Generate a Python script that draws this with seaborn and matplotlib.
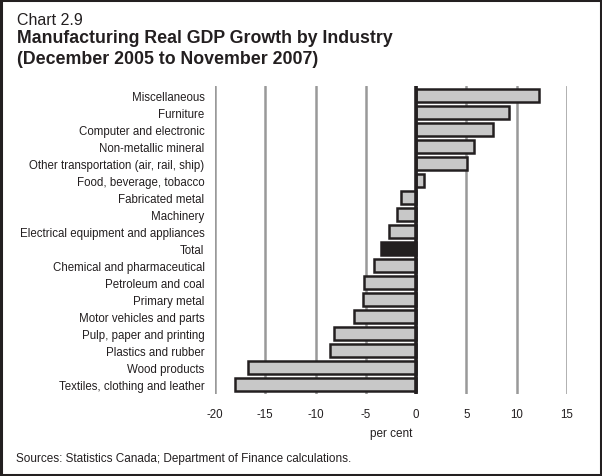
import matplotlib
matplotlib.use('Agg')
import matplotlib.pyplot as plt
import seaborn as sns
from matplotlib.patches import Rectangle

industries = [
    'Miscellaneous', 'Furniture', 'Computer and electronic', 'Non-metallic mineral',
    'Other transportation (air, rail, ship)', 'Food, beverage, tobacco', 'Fabricated metal',
    'Machinery', 'Electrical equipment and appliances', 'Total', 'Chemical and pharmaceutical',
    'Petroleum and coal', 'Primary metal', 'Motor vehicles and parts', 'Pulp, paper and printing',
    'Plastics and rubber', 'Wood products', 'Textiles, clothing and leather',
]
growth = [12.2, 9.2, 7.6, 5.8, 5.1, 0.8, -1.5, -1.9, -2.7, -3.5, -4.2,
          -5.2, -5.3, -6.2, -8.2, -8.6, -16.7, -18.0]
x_ticks = [-20, -15, -10, -5, 0, 5, 10, 15]

sns.set_style('white')
plt.rcParams['font.family'] = ['Liberation Sans', 'DejaVu Sans']

fig = plt.figure(figsize=(6.02, 4.77), dpi=100)
ax = fig.add_axes([215 / 602, 1 - 395 / 477, 352 / 602, 308 / 477])

# light grey bars, black for the total
colors = {name: ('#231f20' if name == 'Total' else '#c8c8c8') for name in industries}
sns.barplot(x=growth, y=industries, hue=industries, palette=colors, legend=False,
            orient='h', width=0.75, edgecolor='#231f20', linewidth=1.8, ax=ax, zorder=2)

ax.set_xlim(-20, 15)
ax.set_ylim(17.55, -0.57)
ax.set_xticks(x_ticks)
ax.set_xticklabels([str(t) for t in x_ticks])
ax.xaxis.grid(True, color='#999999', linewidth=1.8)
ax.yaxis.grid(False)
ax.set_axisbelow(True)
ax.axvline(0, color='#231f20', linewidth=2.6, zorder=3)
for s in ax.spines.values():
    s.set_visible(False)
ax.tick_params(axis='both', length=0, labelsize=8.3, colors='#231f20')
ax.tick_params(axis='x', pad=10)
ax.tick_params(axis='y', pad=7.5)
ax.set_xlabel('per cent', fontsize=8.5, color='#231f20', labelpad=5)
ax.set_ylabel('')

fig.text(17 / 602, 1 - 25 / 477, 'Chart 2.9', fontsize=11.5, color='#231f20', va='baseline')
fig.text(17 / 602, 1 - 43 / 477, 'Manufacturing Real GDP Growth by Industry',
         fontsize=12.8, fontweight='bold', color='#231f20', va='baseline')
fig.text(17 / 602, 1 - 64 / 477, '(December 2005 to November 2007)',
         fontsize=12.8, fontweight='bold', color='#231f20', va='baseline')
fig.text(16 / 602, 1 - 462 / 477, 'Sources: Statistics Canada; Department of Finance calculations.',
         fontsize=8.5, color='#231f20', va='baseline')

# frame around the whole chart
fig.patches.append(Rectangle((0.002, 0.002), 0.996, 0.996, transform=fig.transFigure,
                             fill=False, edgecolor='#231f20', linewidth=2.2))

fig.savefig('out.png', dpi=100)
